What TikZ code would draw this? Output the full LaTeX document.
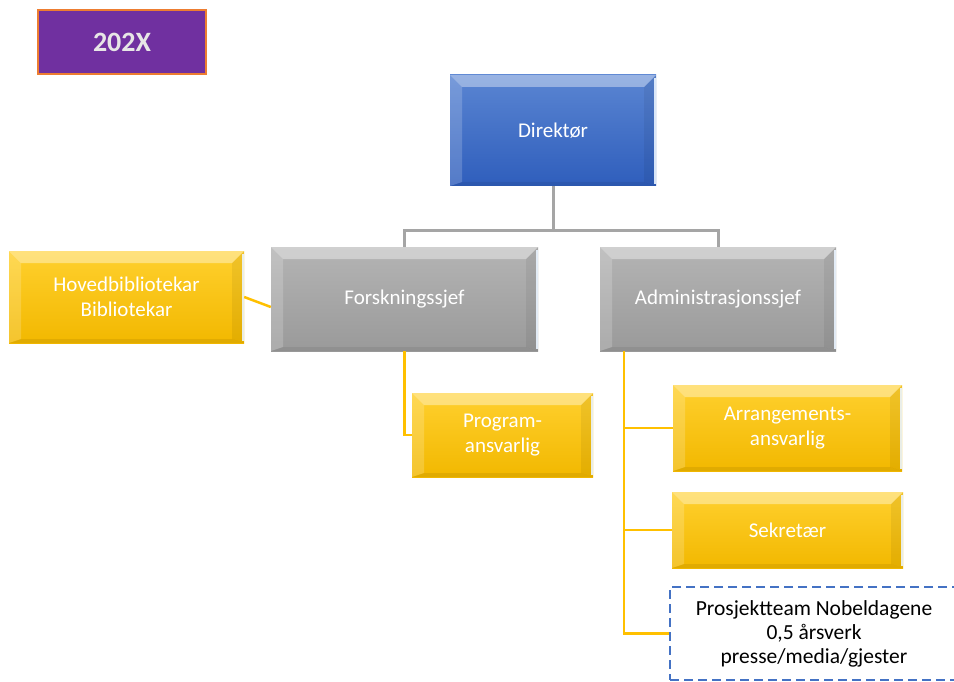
\documentclass[tikz,border=0pt]{standalone}
\usepackage{fontspec}
\setmainfont{Carlito}
\usetikzlibrary{calc}
\definecolor{purp}{HTML}{7030A0}
\definecolor{orng}{HTML}{ED7D31}
\definecolor{blueT}{HTML}{5A85D2}
\definecolor{blueB}{HTML}{2F5EBC}
\definecolor{greyT}{HTML}{B4B4B4}
\definecolor{greyB}{HTML}{9A9A9A}
\definecolor{yelT}{HTML}{FFD02E}
\definecolor{yelB}{HTML}{F2B800}
\definecolor{yline}{HTML}{FFC000}
\definecolor{gline}{HTML}{A5A5A5}
\definecolor{dblue}{HTML}{4472C4}
\definecolor{lbl}{HTML}{E7E6E6}
\definecolor{hilite}{HTML}{EAF4FF}
\tikzset{
  bevel/.style={path picture={
    \coordinate (pNW) at (path picture bounding box.north west);
    \coordinate (pNE) at (path picture bounding box.north east);
    \coordinate (pSW) at (path picture bounding box.south west);
    \coordinate (pSE) at (path picture bounding box.south east);
    \fill[white,opacity=0.38] (pNW) -- (pNE) -- ($(pNE)+(-12pt,-12pt)$) -- ($(pNW)+(12pt,-12pt)$) -- cycle;
    \fill[white,opacity=0.18] (pNW) -- ($(pNW)+(12pt,-12pt)$) -- ($(pSW)+(12pt,4pt)$) -- (pSW) -- cycle;
    \fill[black,opacity=0.06] (pNE) -- ($(pNE)+(-12pt,-12pt)$) -- ($(pSE)+(-12pt,4pt)$) -- (pSE) -- cycle;
    \fill[black,opacity=0.07] (pSW) -- ($(pSW)+(12pt,4pt)$) -- ($(pSE)+(-12pt,4pt)$) -- (pSE) -- cycle;
    \draw[hilite,opacity=0.9,line width=2.5pt] ($(pNE)+(-1.25pt,-3pt)$) -- ($(pSE)+(-1.25pt,2pt)$);
  }},
  box/.style={bevel, minimum width=#1, inner sep=0pt, align=center, text=white,
    font=\fontsize{21}{25}\selectfont},
  bluebox/.style={box=#1, top color=blueT, bottom color=blueB},
  greybox/.style={box=#1, top color=greyT, bottom color=greyB},
  yelbox/.style={box=#1, top color=yelT, bottom color=yelB},
  yconn/.style={draw=yline, line width=2.5pt},
  gconn/.style={draw=gline, line width=3pt},
}
\begin{document}
\begin{tikzpicture}[x=1pt,y=-1pt]
\useasboundingbox (0,0) rectangle (954,682);
\fill[white] (0,0) rectangle (954,682);

\node[fill=purp, draw=orng, line width=2.5pt, minimum width=168pt, minimum height=64pt,
  text=lbl, font=\fontsize{28}{30}\selectfont\bfseries] (yr) at (122,42) {202X};

\node[bluebox=206pt, minimum height=111pt] (dir) at (553,130.5) {Direktør};
\node[greybox=267pt, minimum height=104pt] (forsk) at (404.5,299) {Forskningssjef};
\node[greybox=236pt, minimum height=104pt] (admin) at (718,299) {Administrasjonssjef};
\node[yelbox=235pt, minimum height=92pt] (hoved) at (126.5,297) {Hovedbibliotekar\\Bibliotekar};
\node[yelbox=181pt, minimum height=84pt] (prog) at (502.5,435) {Program-\\ansvarlig};
\node[yelbox=229pt, minimum height=86pt] (arr) at (787.5,428) {Arrangements-\\ansvarlig};
\node[yelbox=231pt, minimum height=76pt] (sek) at (787.5,530) {Sekretær};
\node[draw=dblue, fill=white, line width=2pt, dash pattern=on 9pt off 5pt,
  minimum width=288pt, minimum height=93pt, inner sep=0pt, align=center,
  font=\fontsize{21.5}{24}\selectfont] (pros) at (814,633.5)
  {Prosjektteam Nobeldagene\\0,5 årsverk\\presse/media/gjester};

\coordinate (bus) at (553,231);
\draw[gconn] (dir.south) -- (bus);
\draw[gconn] (forsk.north) |- (bus) -| (admin.north);

\draw[yconn] (hoved.east) -- ([yshift=-8pt]forsk.west);
\draw[yconn] (forsk.south) |- (prog.west);
\coordinate (a0) at ([xshift=24pt]admin.south west);
\draw[yconn] (a0) |- (arr.west);
\draw[yconn] (a0) |- (sek.west);
\draw[yconn] (a0) |- (pros.west);
\end{tikzpicture}
\end{document}
